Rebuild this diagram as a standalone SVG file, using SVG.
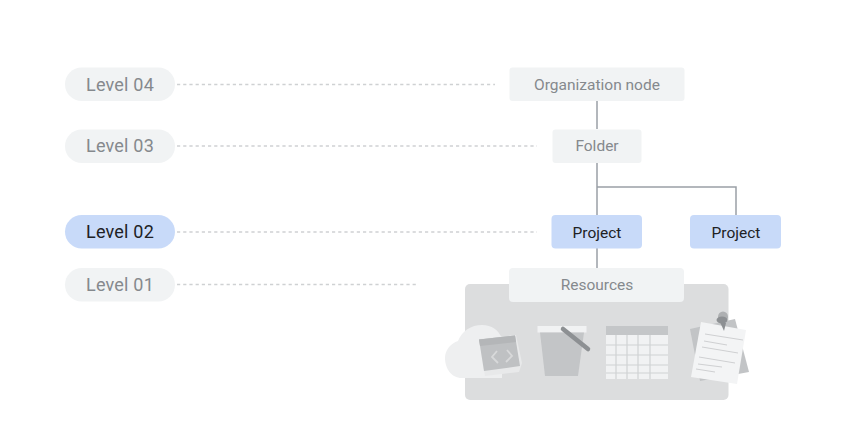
<svg xmlns="http://www.w3.org/2000/svg" width="850" height="441" viewBox="0 0 850 441">
<style>
text{font-family:"Roboto","Liberation Sans",sans-serif;text-anchor:middle;font-size:15.500px;fill:#85898d}
.lv{font-size:18px;letter-spacing:.2px}
.pill{fill:#f1f3f4}
.box{fill:#f1f3f4}
.blue{fill:#c8daf9}
.dark{fill:#202124}
.dash{stroke:#cfd1d3;stroke-width:1.300;stroke-dasharray:3.200 3;fill:none}
.solid{stroke:#9aa0a6;stroke-width:1.500;fill:none}
.grid{stroke:#d0d2d4;stroke-width:1.200;fill:none}
.ln{stroke:#cfd0d2;stroke-width:1;fill:none}
</style>
<rect width="850" height="441" fill="#fff"/>
<g id="connectors">
<path class="dash" d="M177 84.500H495M177 146H537M177 232H537M177 284.500H417"/>
<path class="solid" d="M597 101V129M597 163V215M597 187H736V215M597 248V268"/>
</g>
<g id="level-04"><rect class="pill" x="65" y="67.500" width="110" height="33.500" rx="16.700"/><text class="lv" x="120" y="90.500">Level 04</text></g>
<g id="level-03"><rect class="pill" x="65" y="129.500" width="110" height="33.500" rx="16.700"/><text class="lv" x="120" y="152">Level 03</text></g>
<g id="level-02"><rect class="blue" x="65" y="215" width="110" height="33.500" rx="16.700"/><text class="lv dark" x="120" y="238">Level 02</text></g>
<g id="level-01"><rect class="pill" x="65" y="268" width="110" height="33.500" rx="16.700"/><text class="lv" x="120" y="291">Level 01</text></g>
<g id="organization-node"><rect class="box" x="509.500" y="67.500" width="175" height="33.500" rx="3"/><text x="597" y="89.500">Organization node</text></g>
<g id="folder"><rect class="box" x="552.500" y="129.500" width="89" height="33.500" rx="3"/><text x="597" y="151">Folder</text></g>
<g id="project-1"><rect class="blue" x="551.500" y="215" width="90.500" height="33.500" rx="4"/><text class="dark" x="597" y="237.500">Project</text></g>
<g id="project-2"><rect class="blue" x="690" y="215" width="91" height="33.500" rx="4"/><text class="dark" x="736" y="237.500">Project</text></g>
<g id="resources-panel">
<rect x="465" y="284" width="263.500" height="116" rx="5" fill="#dcddde"/>
<g id="cloud-icon">
<path d="M462 378C451 378 445 368 445 358C445 350 451 343 458 341C462 331 471 325 482 325C492 325 498 330 502 338L502 378Z" fill="#eeeff0"/>
<path d="M479 339L516 335L522 363L519 372L485 376Z" fill="#e8e9ea"/>
<path d="M479 339.500L515 335.500L520 366L484 371Z" fill="#bfc1c3"/>
<path d="M479 339.500L515 335.500L516 342L480 346Z" fill="#b4b6b8"/>
<path d="M497 351L492 357L498 363M507 350L512 356L506 362" fill="none" stroke="#d8d9da" stroke-width="1.800"/>
</g>
<g id="bucket-icon">
<rect x="537.500" y="326" width="49" height="6.500" fill="#f1f2f3"/>
<path d="M540 332.500H584L578 376H545Z" fill="#c3c5c7"/>
<path d="M563 329L588 349" stroke="#8d9093" stroke-width="4.500" stroke-linecap="round"/>
</g>
<g id="table-icon">
<rect x="606" y="326" width="62" height="53" fill="#f1f2f3"/>
<rect x="606" y="326" width="62" height="9" fill="#c4c6c8"/>
<path class="grid" d="M616 335V379M627 335V379M638 335V379M650 335V379M606 345H668M606 355H668M606 365H668M606 373H668"/>
</g>
<g id="note-icon">
<path d="M690 329L735 319L749 372L700 381Z" fill="#c2c4c6"/>
<path d="M701 322L746 330L737 384L691 377Z" fill="#f3f4f5"/>
<path class="ln" d="M705 334L743 340M704 341L727 345M702 347L738 353M699 357L735 363M698 364L722 367M696 369L715 372"/>
<ellipse cx="723" cy="317" rx="5" ry="5.500" fill="#aeb0b2"/>
<ellipse cx="722" cy="320" rx="5.500" ry="3.500" fill="#8d9093"/>
<path d="M720 322L724 331L726 323Z" fill="#8d9093"/>
</g>
</g>
<g id="resources"><rect x="509" y="268" width="175" height="34" rx="4" fill="#f1f3f4"/><text x="597" y="290">Resources</text></g>
</svg>
